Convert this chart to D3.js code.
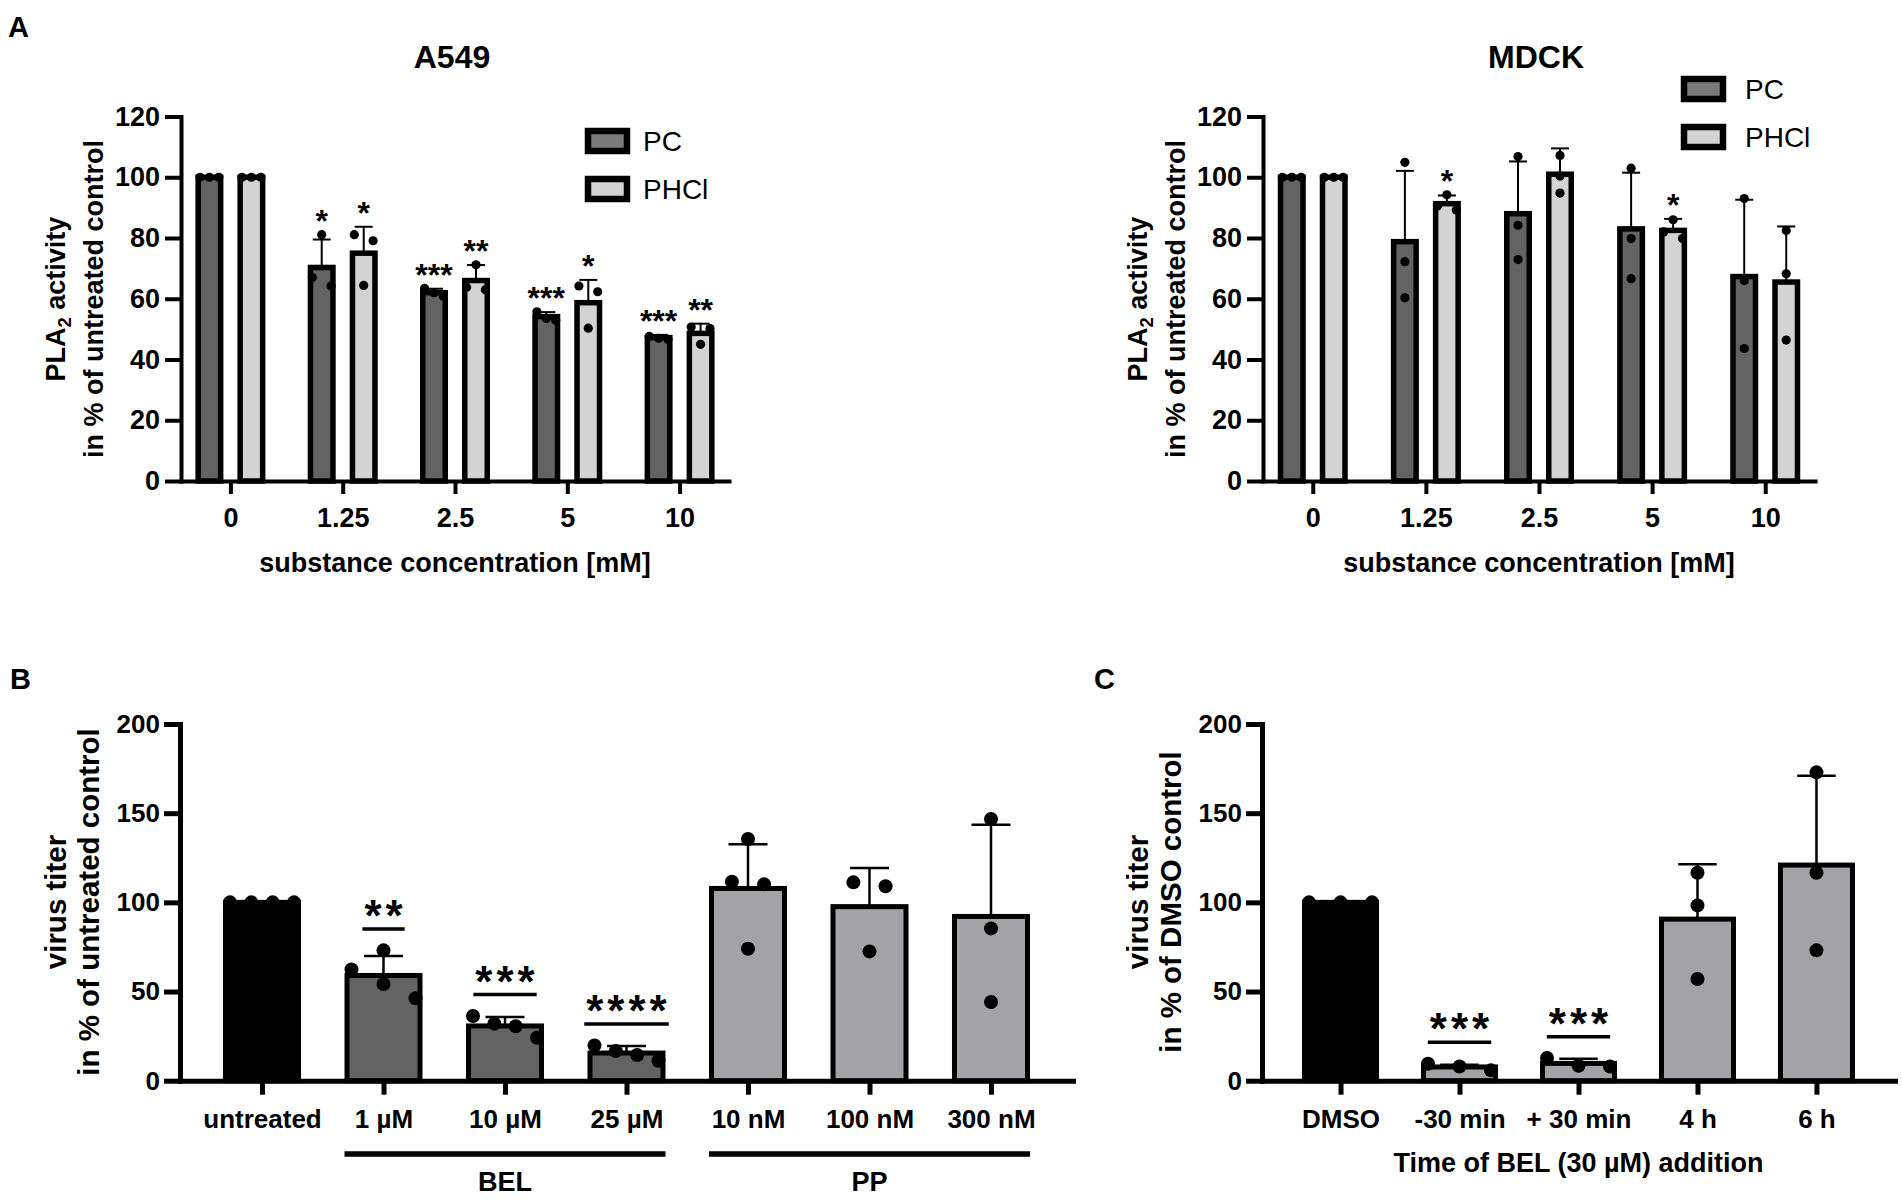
<!DOCTYPE html>
<html>
<head>
<meta charset="utf-8">
<script src="https://cdn.jsdelivr.net/npm/d3@7"></script>
<style>
  body { margin: 0; background: #fff; }
  text { font-family: "Liberation Sans", Arial, sans-serif; fill: #000; }
</style>
</head>
<body>
<svg id="fig" width="1902" height="1200"></svg>
<script>
// ---- panel A data (PLA2 activity, % of untreated control) ----
const concs = ['0', '1.25', '2.5', '5', '10']
const series = ['PC', 'PHCl']

const a549Mean = { PC: [100, 70.3, 62, 54.1, 47.2], PHCl: [100, 75, 66, 58.7, 48.6] }
const a549Sd = { PC: [0, 9.2, 1.3, 1.5, 0.9], PHCl: [0, 8.7, 5.1, 7.5, 3.2] }
const a549Pts = {
    PC: [[100, 100, 100], [81.1, 67, 64.2], [63.4, 62, 60.8], [55.7, 53.5, 52.9], [47.6, 47, 46.6]],
    PHCl: [[100, 100, 100], [81.1, 79.1, 64.4], [71.2, 63.8, 63], [64.2, 62.3, 50.3], [50.7, 50.2, 45]]
}
const a549Sig = { PC: ['', '*', '***', '***', '***'], PHCl: ['', '*', '**', '*', '**'] }

const mdckMean = { PC: [100, 78.8, 88, 83, 67.3], PHCl: [100, 91.3, 101, 82.5, 65.5] }
const mdckSd = { PC: [0, 23.3, 17.2, 18.5, 25.3], PHCl: [0, 2.7, 8.5, 3.8, 18.3] }
const mdckPts = {
    PC: [[100, 100, 100], [104.9, 72.2, 60.3], [106.8, 84.2, 72.9], [103, 79.8, 66.6], [93, 66, 43.6]],
    PHCl: [[100, 100, 100], [94.2, 90.5, 89.2], [107.2, 100.4, 94.8], [86, 82, 79.8], [82.5, 68.2, 46.4]]
}
const mdckSig = { PC: ['', '', '', '', ''], PHCl: ['', '*', '', '*', ''] }

const plaTicks = [0, 20, 40, 60, 80, 100, 120]

// ---- panel B data (virus titer, % of untreated control) ----
const treatB = ['untreated', '1 µM', '10 µM', '25 µM', '10 nM', '100 nM', '300 nM']
const kindB = ['ctrl', 'BEL', 'BEL', 'BEL', 'PP', 'PP', 'PP']
const meanB = [100, 59, 30.7, 15.5, 107.8, 97.6, 92.1]
const sdB = [0, 10.9, 5, 3.9, 24.8, 21.6, 51.4]
const ptsB = [
    [100, 100, 100, 100], [73.1, 62.4, 54.2, 46.2], [36.3, 32, 30.5, 24.1], [19.8, 16.6, 14.4, 11.2],
    [135.5, 111.6, 110.1, 74], [111.2, 109, 72.5], [146.7, 85.4, 44.1]
]
const sigB = ['', '**', '***', '****', '', '', '']
const groupsB = ['BEL', 'PP']

// ---- panel C data (virus titer, % of DMSO control) ----
const timeC = ['DMSO', '-30 min', '+ 30 min', '4 h', '6 h']
const kindC = ['ctrl', 'time', 'time', 'time', 'time']
const meanC = [100, 7.7, 9.7, 90.6, 120.9]
const sdC = [0, 1.3, 2.6, 30.7, 50.1]
const ptsC = [[100, 100, 100], [9.5, 8, 5.8], [12.7, 8.4, 8], [116.6, 98.3, 57], [172.9, 116.6, 73.1]]
const sigC = ['', '***', '***', '', '']

const titerTicks = [0, 50, 100, 150, 200]

const fills = { PC: '#636363', PHCl: '#d3d3d3', ctrl: '#000000', BEL: '#636363', PP: '#a3a3a7', time: '#a3a3a7' }

const svg = d3.select('#fig')

// Prism-like scatter: points close in height are spread side by side over the bar
function spread(vals, y, r, barW) {
    const d = 2 * r
    const order = vals.map((v, i) => i).sort((a, b) => vals[b] - vals[a])
    const clusters = []
    order.forEach(i => {
        const last = clusters[clusters.length - 1]
        if (last && Math.abs(y(vals[last[last.length - 1]]) - y(vals[i])) < 1.1 * d) last.push(i)
        else clusters.push([i])
    })
    const out = []
    clusters.forEach(c => {
        const k = c.length
        const step = k > 1 ? Math.min(2.3 * d, (barW - d) / (k - 1)) : 0
        c.forEach((i, j) => out.push({ v: vals[i], dx: (j - (k - 1) / 2) * step }))
    })
    return out
}

function styleAxis(g, lw, fs) {
    g.attr('font-family', null).attr('font-size', null)
    g.select('.domain').attr('stroke-width', lw).attr('stroke-linecap', 'square')
    g.selectAll('.tick line').attr('stroke-width', lw)
    g.selectAll('.tick text').style('font-size', fs + 'px').style('font-weight', 'bold')
}

function yLabel(g, x, yc, fs, parts) {
    const t = g.append('text')
        .attr('transform', `translate(${x},${yc}) rotate(-90)`)
        .attr('text-anchor', 'middle')
        .style('font-size', fs + 'px')
        .style('font-weight', 'bold')
    parts.forEach(p => {
        const s = t.append('tspan').text(p.t)
        if (p.sub) s.style('font-size', (fs * 0.68) + 'px').attr('dy', fs * 0.22)
        if (p.after) s.attr('dy', -fs * 0.22)
    })
    return t
}

// ---------- grouped PLA2 panels ----------
function plaPanel(c) {
    const g = svg.append('g')
    const x = d3.scalePoint().domain(concs).range([c.x0, c.x1]).padding(0.44)
    const inner = d3.scaleBand().domain(series).range([-35, 35]).paddingInner(1 / 3)
    const y = d3.scaleLinear().domain([0, 120]).range([481, 116.5])
    const bw = inner.bandwidth(), sw = 5.5, r = 4.6

    g.append('text').attr('x', (x(concs[0]) + x(concs[4])) / 2 - 3).attr('y', 68)
        .attr('text-anchor', 'middle').style('font-size', '32px').style('font-weight', 'bold')
        .text(c.title)

    series.forEach(s => {
        const gs = g.append('g')
        concs.forEach((k, i) => {
            const cx = x(k) + inner(s) + bw / 2
            const m = c.mean[s][i], sd = c.sd[s][i]
            gs.append('rect')
                .attr('x', cx - bw / 2 + sw / 2).attr('y', y(m))
                .attr('width', bw - sw).attr('height', y(0) - y(m))
                .attr('fill', fills[s]).attr('stroke', '#000').attr('stroke-width', sw)
            if (sd > 0) {
                gs.append('line').attr('x1', cx).attr('x2', cx).attr('y1', y(m)).attr('y2', y(m + sd))
                    .attr('stroke', '#000').attr('stroke-width', 2)
                gs.append('line').attr('x1', cx - 9).attr('x2', cx + 9).attr('y1', y(m + sd)).attr('y2', y(m + sd))
                    .attr('stroke', '#000').attr('stroke-width', 2)
            }
            gs.selectAll(null).data(spread(c.pts[s][i], y, r, bw)).enter().append('circle')
                .attr('cx', p => cx + p.dx).attr('cy', p => y(p.v)).attr('r', r).attr('fill', '#000')
            if (c.sig[s][i]) {
                const top = Math.max(m + sd, d3.max(c.pts[s][i]))
                g.append('text').attr('x', cx).attr('y', y(top) - 21 + 0.58 * 32)
                    .attr('text-anchor', 'middle').style('font-size', '32px').style('font-weight', 'bold')
                    .text(c.sig[s][i])
            }
        })
    })

    const ya = g.append('g').attr('transform', `translate(${c.x0},0)`)
        .call(d3.axisLeft(y).tickValues(plaTicks).tickSize(16).tickSizeOuter(0).tickPadding(5))
    styleAxis(ya, 4, 27)
    const xa = g.append('g').attr('transform', `translate(0,${y(0)})`)
        .call(d3.axisBottom(x).tickSize(13).tickSizeOuter(0).tickPadding(14))
    styleAxis(xa, 4, 27)

    g.append('text').attr('x', (x(concs[0]) + x(concs[4])) / 2).attr('y', 572)
        .attr('text-anchor', 'middle').style('font-size', '27px').style('font-weight', 'bold')
        .text('substance concentration [mM]')

    yLabel(g, c.x0 - 116, 299, 27, [{ t: 'PLA' }, { t: '2', sub: true }, { t: ' activity', after: true }])
    yLabel(g, c.x0 - 78, 299, 27, [{ t: 'in % of untreated control' }])

    series.forEach((s, i) => {
        const ly = c.ly + i * 48
        g.append('rect').attr('x', c.lx + 3).attr('y', ly + 3).attr('width', 39).attr('height', 20)
            .attr('fill', s === 'PC' ? '#7a7a7a' : fills[s]).attr('stroke', '#000').attr('stroke-width', 6.5)
        g.append('text').attr('x', c.ltx).attr('y', ly + 23).style('font-size', '28px').text(s)
    })
}

// ---------- virus titer panels ----------
function titerPanel(c) {
    const g = svg.append('g')
    const x = d3.scalePoint().domain(c.cats).range([c.x0, c.x1]).padding(c.pad)
    const y = d3.scaleLinear().domain([0, 200]).range([1080.7, 724])
    const bw = c.bw, sw = 5, r = 7

    c.cats.forEach((k, i) => {
        const cx = x(k), m = c.mean[i], sd = c.sd[i]
        g.append('rect')
            .attr('x', cx - bw / 2 + sw / 2).attr('y', y(m))
            .attr('width', bw - sw).attr('height', y(0) - y(m))
            .attr('fill', fills[c.kind[i]]).attr('stroke', '#000').attr('stroke-width', sw)
        if (sd > 0) {
            g.append('line').attr('x1', cx).attr('x2', cx).attr('y1', y(m)).attr('y2', y(m + sd))
                .attr('stroke', '#000').attr('stroke-width', 2.5)
            g.append('line').attr('x1', cx - bw / 4).attr('x2', cx + bw / 4).attr('y1', y(m + sd)).attr('y2', y(m + sd))
                .attr('stroke', '#000').attr('stroke-width', 2.5)
        }
        g.selectAll(null).data(spread(c.pts[i], y, r, bw)).enter().append('circle')
            .attr('cx', p => cx + p.dx).attr('cy', p => y(p.v)).attr('r', r).attr('fill', '#000')
        if (c.sig[i]) {
            const top = Math.max(m + sd, d3.max(c.pts[i]))
            const ly = y(top + 12)
            const t = g.append('text').attr('x', cx).attr('y', ly + 2)
                .attr('text-anchor', 'middle').style('font-size', '44px').style('font-weight', 'bold')
                .style('letter-spacing', '4px')
                .text(c.sig[i])
            const w = t.node().getComputedTextLength() - 4
            t.attr('x', cx + 2)
            g.append('line').attr('x1', cx - w / 2 - 2).attr('x2', cx + w / 2 + 2).attr('y1', ly).attr('y2', ly)
                .attr('stroke', '#000').attr('stroke-width', 3.5)
        }
    })

    const ya = g.append('g').attr('transform', `translate(${c.x0},0)`)
        .call(d3.axisLeft(y).tickValues(titerTicks).tickSize(16).tickSizeOuter(0).tickPadding(4))
    styleAxis(ya, 5, 26)
    const xa = g.append('g').attr('transform', `translate(0,${y(0)})`)
        .call(d3.axisBottom(x).tickSize(14).tickSizeOuter(0).tickPadding(15))
    styleAxis(xa, 5, 26)

    yLabel(g, c.x0 - 114.5, 902, 29.5, [{ t: 'virus titer' }])
    yLabel(g, c.x0 - 81.5, 902, 29.5, [{ t: c.ylab }])

    if (c.groups) {
        c.groups.forEach(name => {
            const members = c.cats.filter((k, i) => c.kind[i] === name)
            const a = x(members[0]) - bw / 2, b = x(members[members.length - 1]) + bw / 2
            g.append('line').attr('x1', a).attr('x2', b).attr('y1', 1154).attr('y2', 1154)
                .attr('stroke', '#000').attr('stroke-width', 5.5)
            g.append('text').attr('x', (x(members[0]) + x(members[members.length - 1])) / 2).attr('y', 1191)
                .attr('text-anchor', 'middle').style('font-size', '27px').style('font-weight', 'bold').text(name)
        })
    }
    if (c.xtitle) {
        g.append('text').attr('x', (x(c.cats[0]) + x(c.cats[c.cats.length - 1])) / 2).attr('y', 1172)
            .attr('text-anchor', 'middle').style('font-size', '27px').style('font-weight', 'bold').text(c.xtitle)
    }
}

plaPanel({ title: 'A549', x0: 181, x1: 729, mean: a549Mean, sd: a549Sd, pts: a549Pts, sig: a549Sig, lx: 585, ly: 128, ltx: 643 })
plaPanel({ title: 'MDCK', x0: 1263, x1: 1815, mean: mdckMean, sd: mdckSd, pts: mdckPts, sig: mdckSig, lx: 1681, ly: 76, ltx: 1745 })

titerPanel({ cats: treatB, kind: kindB, mean: meanB, sd: sdB, pts: ptsB, sig: sigB, x0: 180, x1: 1073, pad: 0.675, bw: 78,
    ylab: 'in % of untreated control', groups: groupsB })
titerPanel({ cats: timeC, kind: kindC, mean: meanC, sd: sdC, pts: ptsC, sig: sigC, x0: 1262, x1: 1895, pad: 0.66, bw: 77,
    ylab: 'in % of DMSO control', xtitle: 'Time of BEL (30 µM) addition' })

// panel letters
const letters = [['A', 8, 37], ['B', 10, 689], ['C', 1094, 689]]
svg.selectAll('.letter').data(letters).enter().append('text').attr('class', 'letter')
    .attr('x', d => d[1]).attr('y', d => d[2])
    .style('font-size', '29px').style('font-weight', 'bold').text(d => d[0])
</script>
</body>
</html>
